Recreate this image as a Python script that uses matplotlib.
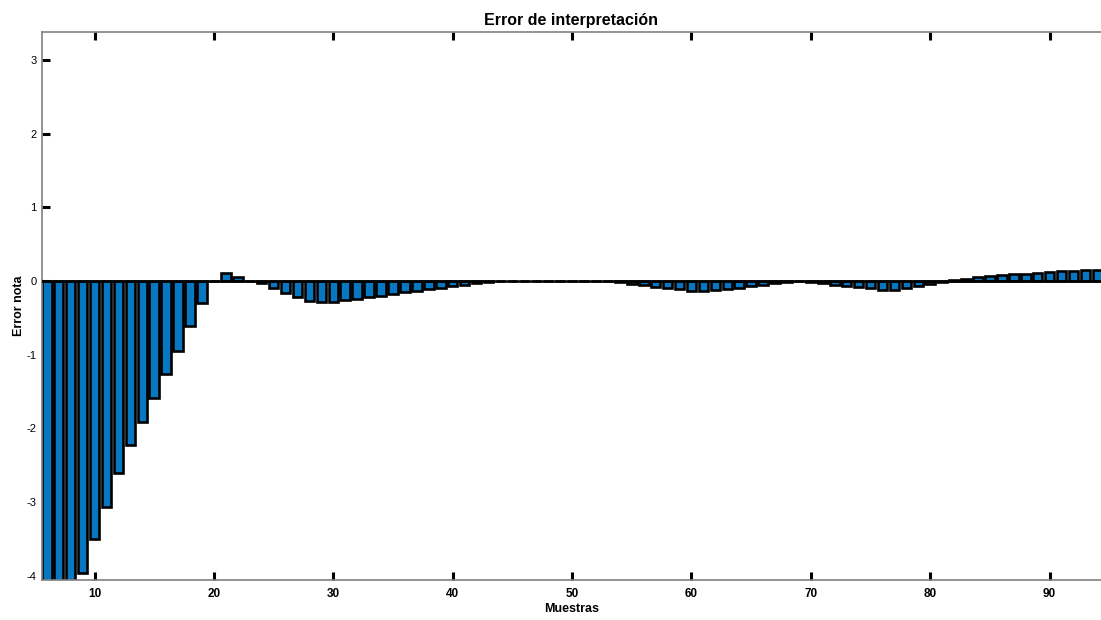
import matplotlib
matplotlib.use("Agg")
import matplotlib.pyplot as plt
import numpy as np

plt.rcParams['font.family'] = ['Liberation Sans', 'DejaVu Sans']

muestras = list(range(6, 96))
error_nota = [
    -5.3, -4.85, -4.4, -3.96, -3.5, -3.07, -2.61, -2.23, -1.91, -1.59,   # 6-15
    -1.26, -0.95, -0.61, -0.30, 0.0, 0.11, 0.06, 0.0, -0.03, -0.10,      # 16-25
    -0.16, -0.22, -0.27, -0.29, -0.28, -0.26, -0.24, -0.22, -0.20, -0.18, # 26-35
    -0.15, -0.13, -0.11, -0.09, -0.07, -0.05, -0.03, -0.01, -0.005, 0.0,  # 36-45
    0.0, 0.0, 0.0, 0.0, 0.0, 0.0, 0.0, 0.0, -0.02, -0.04,                # 46-55
    -0.06, -0.08, -0.09, -0.11, -0.13, -0.13, -0.12, -0.11, -0.09, -0.07, # 56-65
    -0.05, -0.03, -0.01, 0.0, -0.01, -0.03, -0.05, -0.07, -0.08, -0.10,   # 66-75
    -0.12, -0.12, -0.10, -0.07, -0.04, -0.01, 0.01, 0.02, 0.05, 0.07,     # 76-85
    0.08, 0.09, 0.10, 0.11, 0.12, 0.13, 0.14, 0.15, 0.15, 0.15,           # 86-95
]
x_ticks = [10, 20, 30, 40, 50, 60, 70, 80, 90]
y_ticks = [-4, -3, -2, -1, 0, 1, 2, 3]

fig = plt.figure(figsize=(11.01, 6.2), dpi=100)
ax = fig.add_axes([42/1101, 40/620, 1 - 42/1101, (580-32)/620])

ax.bar(muestras, error_nota, width=0.8, color='#0677C0', edgecolor='black',
       linewidth=1.9, zorder=2)
ax.axhline(0, color='black', linewidth=1.8, zorder=3)

ax.set_xlim(5.6, 94.3)
ax.set_ylim(-4.06, 3.38)
ax.set_xticks(x_ticks)
ax.set_yticks(y_ticks)
ax.set_xticklabels([str(t) for t in x_ticks], fontsize=8.5, fontweight='bold')
ax.set_yticklabels([str(t) for t in y_ticks], fontsize=8)

ax.tick_params(axis='both', direction='in', length=6, width=2.2, color='black',
               top=True, right=False, pad=4)
ax.tick_params(axis='x', pad=6)

for s in ax.spines.values():
    s.set_color('#808080')
    s.set_linewidth(1.2)
ax.spines['right'].set_visible(False)

ax.set_title('Error de interpretación', fontsize=11.5, fontweight='bold', pad=5)
ax.set_xlabel('Muestras', fontsize=9, fontweight='bold', labelpad=2)
ax.set_ylabel('Error nota', fontsize=9, fontweight='bold', labelpad=1)

fig.savefig('out.png', dpi=100)
